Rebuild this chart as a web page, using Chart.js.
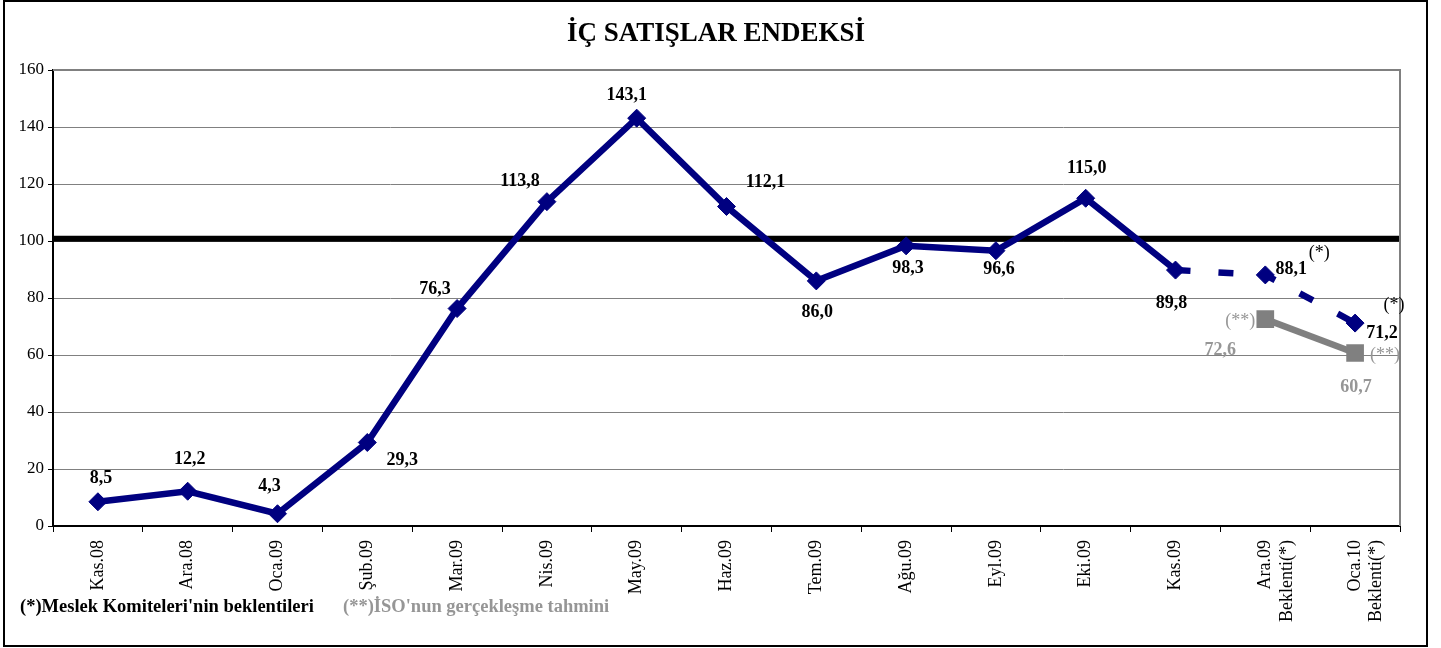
<!DOCTYPE html>
<html>
<head>
<meta charset="utf-8">
<script src="https://cdn.jsdelivr.net/npm/chart.js@4/dist/chart.umd.min.js"></script>
<style>
html,body{margin:0;padding:0;background:#fff;}
#wrap{position:relative;width:1441px;height:648px;}
</style>
</head>
<body>
<div id="wrap"><canvas id="c" width="1441" height="648"></canvas></div>
<script>
// ---- data ----
const categories = [
  "Kas.08","Ara.08","Oca.09","Şub.09","Mar.09","Nis.09","May.09","Haz.09",
  "Tem.09","Ağu.09","Eyl.09","Eki.09","Kas.09",
  ["Ara.09","Beklenti(*)"],["Oca.10","Beklenti(*)"]
];
const actualValues   = [8.5, 12.2, 4.3, 29.3, 76.3, 113.8, 143.1, 112.1, 86.0, 98.3, 96.6, 115.0, 89.8, null, null];
const expectValues   = [null, null, null, null, null, null, null, null, null, null, null, null, 89.8, 88.1, 71.2];
const isoValues      = [null, null, null, null, null, null, null, null, null, null, null, null, null, 72.6, 60.7];
const referenceLevel = [100.8, 100.8];
const referenceSpan  = ["start", "end"];
const yTicks = [0, 20, 40, 60, 80, 100, 120, 140, 160];
const titleText = "İÇ SATIŞLAR ENDEKSİ";
const noteExpect = "(*)Meslek Komiteleri'nin beklentileri";
const noteIso = "(**)İSO'nun gerçekleşme tahmini";
const expectMark = "(*)";
const isoMark = "(**)";

// ---- styles ----
const NAVY = "#000080";
const GRAY = "#808080";
const LABEL_GRAY = "#969696";
const SERIF = "'Liberation Serif','Times New Roman',serif";

// label offsets (px) relative to each point
const actualOffsets = [[3,-23],[2,-32],[-8,-27],[35,18],[-22,-19],[-27,-20],[-10,-23],[39,-24],[1,31],[2,22],[3,19],[1,-30],[-4,33]];
const expectOffsets = {13:[26,-6], 14:[27,10]};
const expectMarkOffsets = {13:[54,-22], 14:[39,-18]};
const isoOffsets = {13:[-45,31], 14:[1,34]};
const isoMarkOffsets = {13:[-25,2], 14:[30,2]};

const fmt = v => v.toFixed(1).replace('.', ',');

const decor = {
  id: 'decor',
  beforeDraw(chart) {
    const ctx = chart.ctx;
    ctx.save();
    ctx.fillStyle = '#fff';
    ctx.fillRect(0, 0, chart.width, chart.height);
    ctx.restore();
  },
  afterDraw(chart) {
    const ctx = chart.ctx;
    const ca = chart.chartArea;
    ctx.save();
    // plot frame top & right
    ctx.strokeStyle = GRAY;
    ctx.lineWidth = 2;
    ctx.beginPath();
    ctx.moveTo(ca.left, ca.top);
    ctx.lineTo(ca.right, ca.top);
    ctx.lineTo(ca.right, ca.bottom);
    ctx.stroke();
    // outer border
    ctx.strokeStyle = '#000';
    ctx.lineWidth = 2;
    ctx.strokeRect(4, 1, 1423, 645);
    // title
    ctx.fillStyle = '#000';
    ctx.font = "bold 27px " + SERIF;
    ctx.textAlign = 'center';
    ctx.textBaseline = 'middle';
    ctx.fillText(titleText, 716, 34);
    // notes
    ctx.font = "bold 18.5px " + SERIF;
    ctx.textAlign = 'left';
    ctx.fillStyle = '#000';
    ctx.fillText(noteExpect, 20, 607);
    ctx.fillStyle = LABEL_GRAY;
    ctx.fillText(noteIso, 343, 607);

    // data labels
    const xs = chart.scales.x, ys = chart.scales.y;
    ctx.textAlign = 'center';
    ctx.textBaseline = 'middle';
    const put = (i, v, off, txt, color, font) => {
      if (!off) return;
      ctx.fillStyle = color;
      ctx.font = font;
      ctx.fillText(txt, xs.getPixelForValue(i) + off[0], ys.getPixelForValue(v) + off[1]);
    };
    const bold = "bold 18px " + SERIF;
    const reg = "18px " + SERIF;
    actualValues.forEach((v, i) => { if (v !== null) put(i, v, actualOffsets[i], fmt(v), '#000', bold); });
    expectValues.forEach((v, i) => {
      if (v === null || !expectOffsets[i]) return;
      put(i, v, expectOffsets[i], fmt(v), '#000', bold);
      put(i, v, expectMarkOffsets[i], expectMark, '#000', reg);
    });
    isoValues.forEach((v, i) => {
      if (v === null) return;
      put(i, v, isoOffsets[i], fmt(v), LABEL_GRAY, bold);
      put(i, v, isoMarkOffsets[i], isoMark, LABEL_GRAY, reg);
    });
    ctx.restore();
  }
};

new Chart(document.getElementById('c'), {
  type: 'line',
  data: {
    labels: categories,
    datasets: [
      {
        data: referenceLevel,
        xAxisID: 'x2',
        borderColor: '#000',
        borderWidth: 6,
        pointRadius: 0,
        tension: 0,
        order: 4
      },
      {
        data: actualValues,
        borderColor: NAVY,
        backgroundColor: NAVY,
        borderWidth: 6.5,
        pointStyle: 'rectRot',
        pointRadius: 9,
        pointBorderWidth: 1,
        pointBorderColor: NAVY,
        pointBackgroundColor: NAVY,
        tension: 0,
        spanGaps: false,
        order: 1
      },
      {
        data: expectValues,
        borderColor: NAVY,
        backgroundColor: NAVY,
        borderWidth: 6.5,
        borderDash: [15, 28],
        pointStyle: 'rectRot',
        pointRadius: ctx => ctx.dataIndex === 12 ? 0 : 9,
        pointBorderWidth: 1,
        pointBorderColor: NAVY,
        pointBackgroundColor: NAVY,
        tension: 0,
        order: 2
      },
      {
        data: isoValues,
        borderColor: GRAY,
        backgroundColor: GRAY,
        borderWidth: 6.5,
        pointStyle: 'rect',
        pointRadius: 12.5,
        pointBorderWidth: 0,
        pointBackgroundColor: GRAY,
        tension: 0,
        order: 3
      }
    ]
  },
  options: {
    responsive: false,
    animation: false,
    devicePixelRatio: 1,
    layout: { padding: { top: 70, right: 41, left: 0, bottom: 0 } },
    plugins: { legend: { display: false }, tooltip: { enabled: false }, title: { display: false } },
    scales: {
      x: {
        offset: true,
        afterFit: s => { s.height = 122; },
        grid: { display: true, drawOnChartArea: false, offset: true, tickLength: 6, color: '#000', lineWidth: 1 },
        border: { display: true, color: '#000', width: 2 },
        ticks: {
          autoSkip: false, minRotation: 90, maxRotation: 90, padding: 8,
          color: '#000', font: { family: SERIF, size: 18 }
        }
      },
      x2: {
        type: 'category',
        labels: referenceSpan,
        offset: false,
        display: false
      },
      y: {
        min: 0, max: 160,
        afterFit: s => { s.width = 53; },
        afterBuildTicks: s => { s.ticks = yTicks.map(v => ({ value: v })); },
        grid: { color: GRAY, lineWidth: 1, tickLength: 5, tickColor: '#000' },
        border: { display: true, color: '#000', width: 2 },
        ticks: { color: '#000', padding: 4, font: { family: SERIF, size: 17 } }
      }
    }
  },
  plugins: [decor]
});
</script>
</body>
</html>
